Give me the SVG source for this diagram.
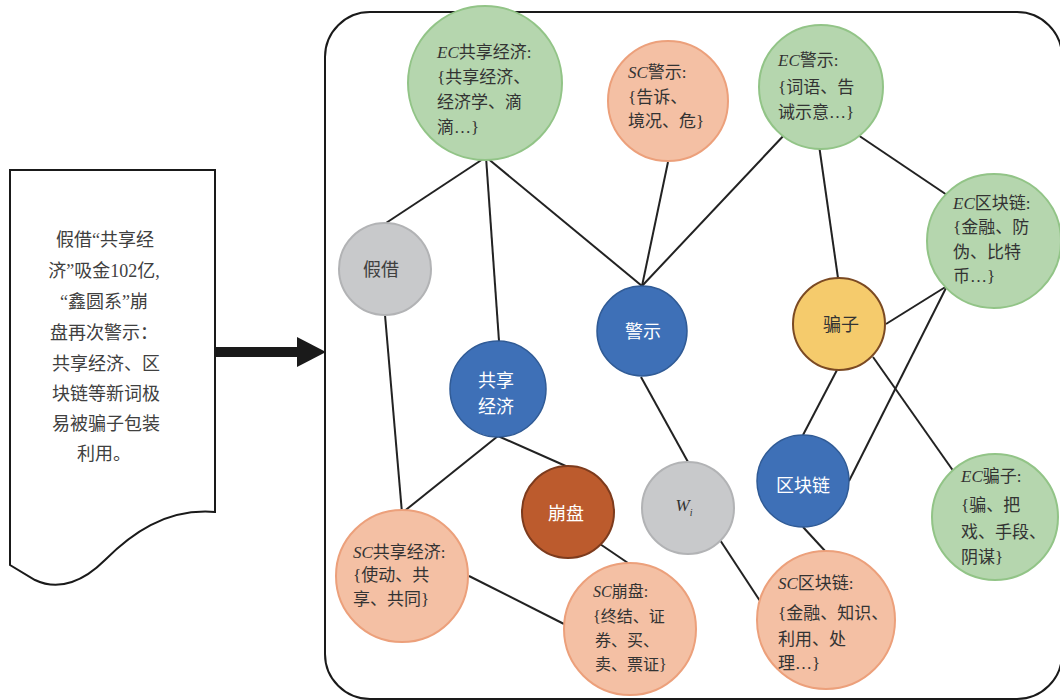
<svg xmlns="http://www.w3.org/2000/svg" width="1060" height="700" viewBox="0 0 1060 700">
<defs>
<style>
.cjk{font-family:"Noto Sans CJK SC","Liberation Sans",sans-serif;}
.lbl{font-family:"Noto Sans CJK SC","Liberation Sans",sans-serif;font-size:17px;fill:#333;}
.sm{font-size:16px;}
.it{font-family:"Liberation Serif",serif;font-style:italic;}
.ser{font-family:"Liberation Serif",serif;}
.ctr{font-family:"Noto Sans CJK SC","Liberation Sans",sans-serif;font-size:18px;text-anchor:middle;}
.green{fill:#b5d6ae;stroke:#92c487;stroke-width:2;}
.salmon{fill:#f4c0a4;stroke:#eca07b;stroke-width:2;}
.gray{fill:#c8c9cb;stroke:#b2b3b5;stroke-width:2;}
.blue{fill:#3e70b7;stroke:#305b96;stroke-width:1.5;}
.yellow{fill:#f5cb6c;stroke:#7b4a23;stroke-width:2;}
.brown{fill:#bc5b2d;stroke:#7d3b1d;stroke-width:2;}
.edge{stroke:#222;stroke-width:2;fill:none;}
</style>
</defs>
<rect width="1060" height="700" fill="#fff"/>
<rect x="325" y="12" width="737" height="687" rx="45" ry="45" fill="none" stroke="#1a1a1a" stroke-width="2"/>
<g id="document">
<path d="M10,170 L215,170 L215,512 C165,508 130,535 105,560 C85,580 60,592 35,580 L10,565 Z" fill="#fff" stroke="#1a1a1a" stroke-width="2"/>
<g class="cjk" font-size="18" fill="#404040" text-anchor="middle">
<text x="105" y="246">假借<tspan class="ser">“</tspan>共享经</text>
<text x="104" y="277">济<tspan class="ser">”</tspan>吸金<tspan class="ser">102</tspan>亿<tspan class="ser">,</tspan></text>
<text x="104" y="308"><tspan class="ser">“</tspan>鑫圆系<tspan class="ser">”</tspan>崩</text>
<text x="104" y="339">盘再次警示：</text>
<text x="106" y="370">共享经济、区</text>
<text x="106" y="400">块链等新词极</text>
<text x="106" y="430">易被骗子包装</text>
<text x="104" y="460">利用。</text>
</g>
</g>
<g id="main-arrow">
<rect x="214" y="347" width="86" height="10" fill="#1a1a1a"/>
<polygon points="297,337 326,352 297,367" fill="#1a1a1a"/>
</g>
<g id="connectors">
<line class="edge" x1="486" y1="157" x2="386" y2="223"/>
<line class="edge" x1="486" y1="157" x2="499" y2="341"/>
<line class="edge" x1="486" y1="157" x2="642" y2="286"/>
<line class="edge" x1="668" y1="162" x2="642" y2="286"/>
<line class="edge" x1="787" y1="132" x2="642" y2="286"/>
<line class="edge" x1="819" y1="145" x2="838" y2="278"/>
<line class="edge" x1="852" y1="131" x2="947" y2="195"/>
<line class="edge" x1="947" y1="286" x2="886" y2="324"/>
<line class="edge" x1="947" y1="286" x2="849" y2="481"/>
<line class="edge" x1="837" y1="370" x2="803" y2="435"/>
<line class="edge" x1="873" y1="357" x2="954" y2="472"/>
<line class="edge" x1="803" y1="527" x2="826" y2="552"/>
<line class="edge" x1="641" y1="377" x2="688" y2="462"/>
<line class="edge" x1="720" y1="540" x2="762" y2="604"/>
<line class="edge" x1="385" y1="315" x2="402" y2="513"/>
<line class="edge" x1="498" y1="436" x2="402" y2="513"/>
<line class="edge" x1="498" y1="436" x2="568" y2="467"/>
<line class="edge" x1="600" y1="544" x2="628" y2="563"/>
<line class="edge" x1="469" y1="576" x2="564" y2="624"/>
</g>
<g id="ec-share">
<circle class="green" cx="485" cy="83" r="77"/>
<text class="lbl" x="437" y="58"><tspan class="it">EC</tspan>共享经济<tspan class="ser">:</tspan></text>
<text class="lbl" x="437" y="83"><tspan class="ser">{</tspan>共享经济、</text>
<text class="lbl" x="437" y="108">经济学、滴</text>
<text class="lbl" x="437" y="133">滴<tspan class="ser">…}</tspan></text>
</g>
<g id="sc-warn">
<circle class="salmon" cx="668" cy="101" r="60"/>
<text class="lbl" x="628" y="78"><tspan class="it">SC</tspan>警示<tspan class="ser">:</tspan></text>
<text class="lbl" x="628" y="103"><tspan class="ser">{</tspan>告诉、</text>
<text class="lbl" x="628" y="127">境况、危<tspan class="ser">}</tspan></text>
</g>
<g id="ec-warn">
<circle class="green" cx="821" cy="87" r="62"/>
<text class="lbl" x="778" y="66"><tspan class="it">EC</tspan>警示<tspan class="ser">:</tspan></text>
<text class="lbl" x="778" y="93"><tspan class="ser">{</tspan>词语、告</text>
<text class="lbl" x="778" y="118">诫示意<tspan class="ser">…}</tspan></text>
</g>
<g id="ec-blockchain">
<circle class="green" cx="994" cy="241" r="67"/>
<text class="lbl" x="953" y="209"><tspan class="it">EC</tspan>区块链<tspan class="ser">:</tspan></text>
<text class="lbl" x="953" y="233"><tspan class="ser">{</tspan>金融、防</text>
<text class="lbl" x="953" y="258">伪、比特</text>
<text class="lbl" x="953" y="282">币<tspan class="ser">…}</tspan></text>
</g>
<g id="jiajie">
<circle class="gray" cx="385" cy="269" r="46"/>
<text class="ctr" x="381" y="276" fill="#404040">假借</text>
</g>
<g id="warn">
<circle class="blue" cx="642" cy="331" r="45"/>
<text class="ctr" x="643" y="338" fill="#fff">警示</text>
</g>
<g id="share">
<circle class="blue" cx="498" cy="389" r="48"/>
<text class="ctr" x="496" y="387" fill="#fff">共享</text>
<text class="ctr" x="496" y="413" fill="#fff">经济</text>
</g>
<g id="pianzi">
<circle class="yellow" cx="839" cy="324" r="46"/>
<text class="ctr" x="841" y="331" fill="#333">骗子</text>
</g>
<g id="blockchain">
<circle class="blue" cx="803" cy="481" r="46"/>
<text class="ctr" x="803" y="492" fill="#fff">区块链</text>
</g>
<g id="collapse">
<circle class="brown" cx="568" cy="512" r="46"/>
<text class="ctr" x="566" y="520" fill="#fff">崩盘</text>
</g>
<g id="wi">
<circle class="gray" cx="688" cy="508" r="46"/>
<text x="684" y="511" font-family="Liberation Serif,serif" font-style="italic" font-size="17" fill="#333" text-anchor="middle">W<tspan font-size="10" dy="5">i</tspan></text>
</g>
<g id="ec-pianzi">
<circle class="green" cx="995" cy="517" r="63"/>
<text class="lbl" x="961" y="482"><tspan class="it">EC</tspan>骗子<tspan class="ser">:</tspan></text>
<text class="lbl" x="961" y="511"><tspan class="ser">{</tspan>骗、把</text>
<text class="lbl" x="961" y="538">戏、手段、</text>
<text class="lbl" x="961" y="563">阴谋<tspan class="ser">}</tspan></text>
</g>
<g id="sc-share">
<circle class="salmon" cx="402" cy="576" r="66"/>
<text class="lbl" x="353" y="558"><tspan class="it">SC</tspan>共享经济<tspan class="ser">:</tspan></text>
<text class="lbl" x="353" y="581"><tspan class="ser">{</tspan>使动、共</text>
<text class="lbl" x="353" y="605">享、共同<tspan class="ser">}</tspan></text>
</g>
<g id="sc-collapse">
<circle class="salmon" cx="630" cy="629" r="66"/>
<text class="lbl sm" x="593" y="597"><tspan class="it">SC</tspan>崩盘<tspan class="ser">:</tspan></text>
<text class="lbl sm" x="593" y="622"><tspan class="ser">{</tspan>终结、证</text>
<text class="lbl sm" x="595" y="646">券、买、</text>
<text class="lbl sm" x="595" y="670">卖、票证<tspan class="ser">}</tspan></text>
</g>
<g id="sc-blockchain">
<circle class="salmon" cx="826" cy="620" r="69"/>
<text class="lbl" x="778" y="589"><tspan class="it">SC</tspan>区块链<tspan class="ser">:</tspan></text>
<text class="lbl" x="778" y="619"><tspan class="ser">{</tspan>金融、知识、</text>
<text class="lbl" x="778" y="645">利用、处</text>
<text class="lbl" x="778" y="669">理<tspan class="ser">…}</tspan></text>
</g>
</svg>
